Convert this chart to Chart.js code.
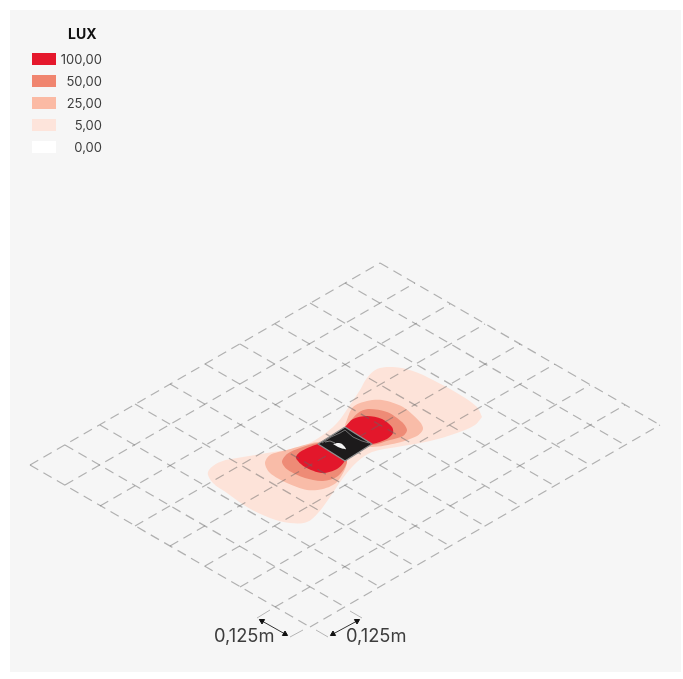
<!DOCTYPE html>
<html>
<head>
<meta charset="utf-8">
<title>LUX</title>
<style>
  html, body { margin: 0; padding: 0; background: #fff; }
  #panel { position: absolute; left: 10px; top: 10px; width: 671px; height: 662px; background: #f6f6f6; }
  #wrap { position: absolute; left: 0; top: 0; width: 683px; height: 679px; filter: blur(0.4px); }
  .txt { position: absolute; font-family: Inter, "Noto Sans", sans-serif; color: #3d3d3d; white-space: nowrap; }
  .swatch { position: absolute; left: 32px; width: 24px; height: 12px; }
  .val { left: 40px; width: 62px; text-align: right; font-size: 13px; line-height: 16px; }
  .dim { font-size: 18.3px; line-height: 22px; }
</style>
</head>
<body>
<div id="panel"></div>
<div id="wrap"><canvas id="chart" width="683" height="679"></canvas></div>
<div class="txt" style="left:68px;top:26px;font-size:14px;line-height:16px;font-weight:700;color:#111">LUX</div>
<div id="legend"></div>
<div class="txt dim" style="left:214px;top:624px">0,125m</div>
<div class="txt dim" style="left:346px;top:624px">0,125m</div>

<script src="https://cdn.jsdelivr.net/npm/chart.js@4"></script>
<script>
// legend
const legendLabels = ['100,00', '50,00', '25,00', '5,00', '0,00'];
const legendColors = ['#e5182c', '#f0856f', '#fbbaa4', '#fde4db', '#ffffff'];

// grid lines, one direction
const rowStartX = [30, 65, 100, 135, 170, 205, 240, 275, 310];
const rowStartY = [465, 485, 506, 526, 546, 566, 587, 607, 627];
const rowEndX = [380, 415, 450, 485, 520, 555, 590, 625, 660];
const rowEndY = [263, 283, 304, 324, 344, 364, 385, 405, 425];
// grid lines, other direction
const colStartX = [30, 65, 100, 135, 170, 205, 240, 275, 310, 345, 380];
const colStartY = [465, 445, 425, 404, 384, 364, 344, 324, 303, 283, 263];
const colEndX = [310, 345, 380, 415, 450, 485, 520, 555, 590, 625, 660];
const colEndY = [627, 607, 587, 566, 546, 526, 506, 486, 465, 445, 425];

// contours
const lux5X = [482, 477, 457, 433, 413, 393, 377, 367, 360, 350, 337, 320, 300, 273, 243, 220, 208, 213, 227, 247, 270, 290, 307, 318, 330, 343, 357, 372, 397, 430, 457, 475, 482];
const lux5Y = [417, 407, 393, 380, 371, 367, 369, 378, 390, 405, 423, 437, 447, 452, 457, 462, 472, 483, 493, 507, 518, 523, 522, 513, 497, 478, 462, 452, 447, 441, 433, 425, 417];
const lux25X = [345, 353, 367, 382, 403, 420, 423, 417, 397, 372, 345, 347, 337, 323, 307, 287, 270, 265, 270, 287, 318, 345, 345];
const lux25Y = [425, 407, 401, 400, 407, 422, 429, 436, 443, 447, 444, 463, 482, 489, 490, 483, 473, 463, 455, 450, 442, 442, 425];
const lux50X = [347, 358, 368, 387, 402, 407, 403, 390, 372, 345, 347, 338, 323, 305, 288, 282, 287, 300, 318, 345, 347];
const lux50Y = [425, 413, 409, 412, 422, 430, 436, 440, 445, 444, 462, 476, 481, 478, 470, 462, 454, 448, 443, 442, 425];
const lux100X = [345, 353, 367, 382, 392, 393, 387, 372, 345, 345, 337, 322, 305, 296, 300, 318, 345, 345];
const lux100Y = [427, 419, 416, 419, 427, 433, 439, 444, 444, 460, 469, 473, 467, 458, 452, 444, 440, 427];

// the fitting on top
const bodyX = [345, 372, 345, 318, 345];
const bodyY = [427, 444, 461, 444, 427];
const rimX = [345, 372, 345, 318, 345];
const rimY = [427, 444, 461, 444, 427];
const seamX = [345, 353, 362, 369];
const seamY = [430, 437, 441, 443];
const seamTopX = [322, 331, 340, 345];
const seamTopY = [443, 437, 433, 430];
const seamLowX = [325, 330, 335];
const seamLowY = [442, 441, 443];
const glintX = [333, 338, 342, 346, 342, 338, 333];
const glintY = [444, 443, 444, 449, 448.5, 447, 444];

// dimension marks
const dimLeftX = [257, 290];
const dimLeftY = [618, 637];
const dimRightX = [328, 362];
const dimRightY = [637, 618];
const extA = [[257, 618], [270, 610]];
const extB = [[290, 637], [303, 630]];
const extC = [[328, 637], [316, 630]];
const extD = [[362, 618], [350, 611]];

// legend html
const legendEl = document.getElementById('legend');
legendLabels.forEach((lab, i) => {
    const top = 59 + i * 22;
    const sw = document.createElement('div');
    sw.className = 'swatch';
    sw.style.top = (top - 6) + 'px';
    sw.style.background = legendColors[i];
    legendEl.appendChild(sw);
    const t = document.createElement('div');
    t.className = 'txt val';
    t.style.top = (top - 8) + 'px';
    t.textContent = lab;
    legendEl.appendChild(t);
});

function pts(xs, ys) {
    return xs.map((x, i) => ({ x: x, y: ys[i] }));
}

function shape(xs, ys, color, order, tension) {
    return {
        data: pts(xs, ys),
        showLine: true,
        solid: true, // filled by the plugin below
        fill: false,
        backgroundColor: color,
        borderColor: color,
        borderWidth: 0,
        pointRadius: 0,
        tension: tension,
        order: order
    };
}

function stroke(data, color, width, order, dash) {
    return {
        data: data,
        showLine: true,
        fill: false,
        borderColor: color,
        borderWidth: width,
        borderDash: dash || [],
        borderJoinStyle: 'round',
        pointRadius: 0,
        tension: 0,
        order: order
    };
}

function arrow(xs, ys, rotations) {
    return {
        data: pts(xs, ys),
        showLine: true,
        fill: false,
        borderColor: '#333',
        borderWidth: 1,
        pointStyle: 'triangle',
        pointRadius: 3,
        pointBackgroundColor: '#111',
        pointBorderColor: '#111',
        pointRotation: rotations,
        tension: 0,
        order: 1
    };
}

const solidFill = {
    id: 'solidFill',
    beforeDatasetDraw(chart, args) {
        const ds = chart.data.datasets[args.index];
        if (!ds.solid) return;
        const ctx = chart.ctx;
        const line = args.meta.dataset;
        line.updateControlPoints(chart.chartArea);
        ctx.save();
        ctx.beginPath();
        line.path(ctx);
        ctx.closePath();
        ctx.fillStyle = ds.backgroundColor;
        ctx.fill();
        ctx.restore();
    }
};

const datasets = [
    shape(lux5X, lux5Y, '#fde3d9', 50, 0.35),
    shape(lux25X, lux25Y, '#f9bca8', 49, 0.3),
    shape(lux50X, lux50Y, '#ee8b76', 48, 0.3),
    shape(lux100X, lux100Y, '#e3172b', 47, 0.3)
];

const gridColor = 'rgba(100, 100, 100, 0.48)';
rowStartX.forEach((x, i) => {
    datasets.push(stroke([{ x: x, y: rowStartY[i] }, { x: rowEndX[i], y: rowEndY[i] }], gridColor, 1.2, 30, [9.5, 6]));
});
colStartX.forEach((x, i) => {
    datasets.push(stroke([{ x: x, y: colStartY[i] }, { x: colEndX[i], y: colEndY[i] }], gridColor, 1.2, 30, [9.5, 6]));
});

[extA, extB, extC, extD].forEach(e => {
    datasets.push(stroke(e.map(p => ({ x: p[0], y: p[1] })), '#b5b5b5', 1, 2));
});

datasets.push(arrow(
    [dimLeftX[0] + 5, dimLeftX[1] - 5], [dimLeftY[0] + 3, dimLeftY[1] - 3], [-60, 120]));
datasets.push(arrow(
    [dimRightX[0] + 5, dimRightX[1] - 5], [dimRightY[0] - 3, dimRightY[1] + 3], [-120, 60]));

datasets.push(shape(bodyX, bodyY, '#1c1a1b', 10, 0));
datasets.push(stroke(pts(rimX, rimY), '#8f8f8f', 1.4, 9));
datasets.push(stroke(pts(seamX, seamY), '#8a8a8a', 0.8, 8));
datasets.push(stroke(pts(seamTopX, seamTopY), '#8a8a8a', 0.8, 8));
datasets.push(stroke(pts(seamLowX, seamLowY), '#9a9a9a', 0.8, 8));
datasets.push(shape(glintX, glintY, '#f4f4f4', 7, 0.3));

new Chart(document.getElementById('chart').getContext('2d'), {
    type: 'scatter',
    data: { datasets: datasets },
    plugins: [solidFill],
    options: {
        responsive: false,
        animation: false,
        layout: { padding: 0, autoPadding: false },
        plugins: { legend: { display: false }, tooltip: { enabled: false } },
        scales: {
            x: { type: 'linear', display: false, min: 0, max: 683 },
            y: { type: 'linear', display: false, min: 0, max: 679, reverse: true }
        }
    }
});
</script>
</body>
</html>
